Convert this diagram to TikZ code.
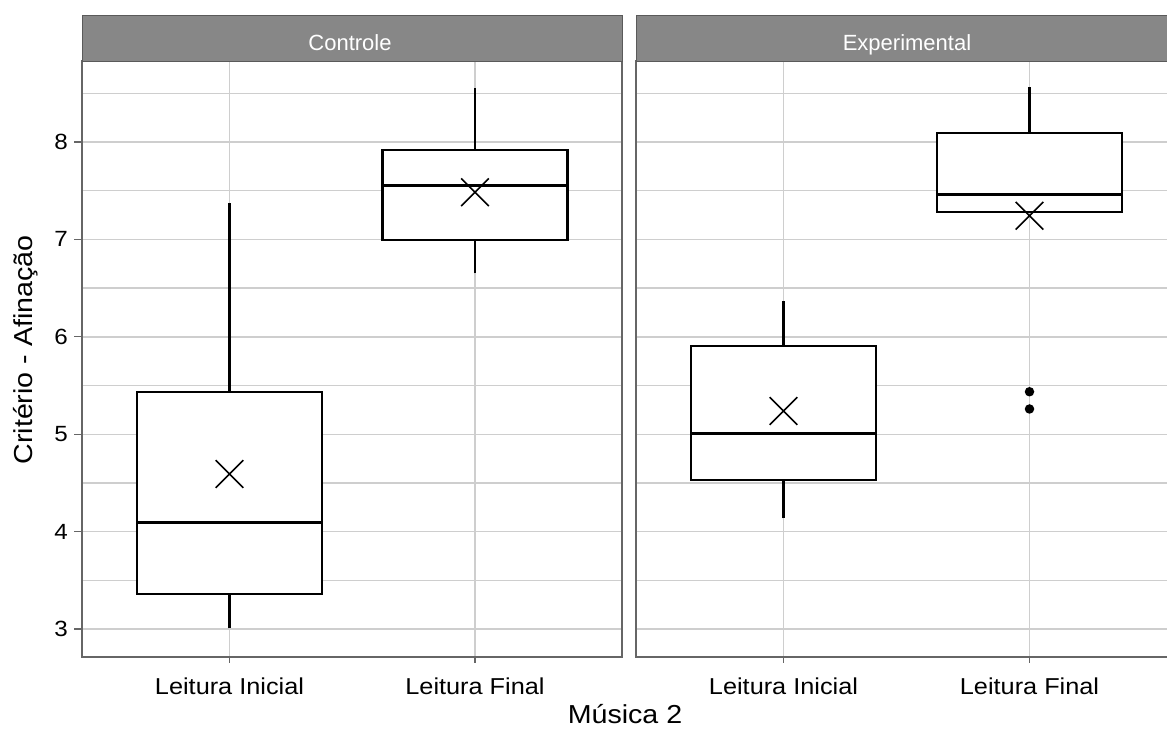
\documentclass[tikz,border=0pt]{standalone}
\usepackage{fontspec}
\setmainfont{Liberation Sans}
\newfontfamily\wfont[FakeStretch=1.1]{Liberation Sans}
\usetikzlibrary{shapes.misc}
\definecolor{stripgray}{HTML}{878787}
\definecolor{stripborder}{HTML}{5A5A5A}
\definecolor{gridgray}{HTML}{CECECE}
\definecolor{bordergray}{HTML}{666666}
\begin{document}
\begin{tikzpicture}[x=1pt,y=-1pt,
  gridln/.style={draw=gridgray,line width=1.4pt},
  border/.style={draw=bordergray,line width=1.5pt},
  strip/.style={fill=stripgray,draw=stripborder,line width=1pt},
  striptext/.style={text=white,font=\fontsize{22}{22}\selectfont,anchor=base},
  tickln/.style={draw=bordergray,line width=1.3pt},
  ylab/.style={font=\wfont\fontsize{22}{22}\selectfont,anchor=east,inner sep=0pt},
  xlab/.style={font=\wfont\fontsize{23}{23}\selectfont,anchor=base,inner sep=0pt},
  ttl/.style={font=\wfont\fontsize{26}{26}\selectfont,inner sep=0pt},
  boxln/.style={draw=black,line width=2.2pt,fill=white},
  whisk/.style={draw=black,line width=2.2pt},
  med/.style={draw=black,line width=3pt},
  meanx/.style={cross out,draw=black,line width=1.6pt,minimum size=26pt,inner sep=0pt},
  outl/.style={circle,fill=black,minimum size=9.5pt,inner sep=0pt}
]
\useasboundingbox (0,0) rectangle (1167,729);
\clip (0,0) rectangle (1167,729);
\fill[white] (0,0) rectangle (1167,729);

% panel backgrounds and vertical grid lines
\fill[white] (82,61) rectangle (622,657);
\fill[white] (636,61) rectangle (1176,657);
\foreach \gx in {229.5,475,783.5,1029.5}
  \draw[gridln] (\gx,61) -- (\gx,657);

\begin{scope}[y=97.4pt,yshift=-921.2pt]
  % horizontal grid lines
  \foreach \v in {3,3.5,...,8.5} {
    \draw[gridln] (82,\v) -- (622,\v);
    \draw[gridln] (636,\v) -- (1176,\v);
  }
  % y ticks and labels
  \foreach \v/\nm in {3/t3,4/t4,5/t5,6/t6,7/t7,8/t8} {
    \draw[tickln] (74,\v) -- (82,\v);
    \node[ylab] (\nm) at (68,\v) {\v};
  }

  % Controle - Leitura Inicial
  \draw[whisk] (229.5,3.007) -- (229.5,3.359);
  \draw[whisk] (229.5,5.436) -- (229.5,7.37);
  \draw[boxln] (137,3.359) rectangle (322,5.436);
  \draw[med] (137,4.095) -- (322,4.095);
  \node[meanx] (m1) at (229.5,4.591) {};

  % Controle - Leitura Final
  \draw[whisk] (475,6.652) -- (475,6.994);
  \draw[whisk] (475,7.915) -- (475,8.551);
  \draw[boxln] (382.5,6.994) rectangle (567.5,7.915);
  \draw[med] (382.5,7.551) -- (567.5,7.551);
  \node[meanx] (m2) at (475,7.484) {};

  % Experimental - Leitura Inicial
  \draw[whisk] (783.5,4.137) -- (783.5,4.530);
  \draw[whisk] (783.5,5.905) -- (783.5,6.37);
  \draw[boxln] (691,4.530) rectangle (876,5.905);
  \draw[med] (691,5.005) -- (876,5.005);
  \node[meanx] (m3) at (783.5,5.238) {};

  % Experimental - Leitura Final
  \draw[whisk] (1029.5,8.089) -- (1029.5,8.562);
  \draw[boxln] (937,7.278) rectangle (1122,8.089);
  \draw[med] (937,7.466) -- (1122,7.466);
  \node[meanx] (m4) at (1029.5,7.243) {};
  \node[outl] (o1) at (1029.5,5.436) {};
  \node[outl] (o2) at (1029.5,5.259) {};
\end{scope}

% panel borders
\draw[border] (82,61) rectangle (622,657);
\draw[border] (636,61) rectangle (1176,657);

% strips
\draw[strip] (82,15) rectangle (622,61);
\draw[strip] (636,15) rectangle (1176,61);
\node[striptext] (s1) at (350,50) {Controle};
\node[striptext] (s2) at (907,50) {Experimental};

% x ticks and labels
\foreach \gx/\nm/\tx in {229.5/x1/Leitura Inicial,475/x2/Leitura Final,783.5/x3/Leitura Inicial,1029.5/x4/Leitura Final} {
  \draw[tickln] (\gx,657) -- (\gx,663);
  \node[xlab] (\nm) at (\gx,694) {\tx};
}

% axis titles
\node[ttl,anchor=base] (xt) at (625,723) {Música 2};
\node[ttl,anchor=base,rotate=90] (yt) at (32,350) {Critério - Afinação};
\end{tikzpicture}
\end{document}
